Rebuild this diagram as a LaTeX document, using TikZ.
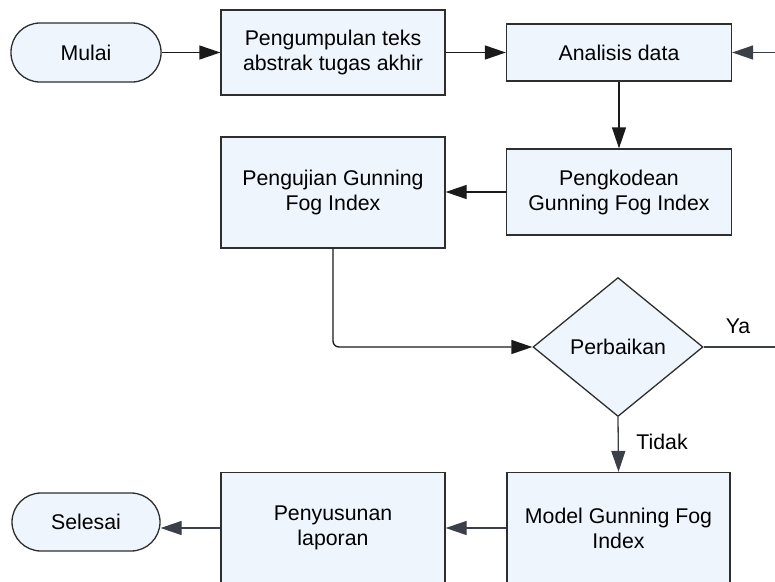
\documentclass[tikz,border=0pt]{standalone}
\usepackage{fontspec}
\setmainfont{Liberation Sans}
\usetikzlibrary{shapes.geometric,arrows.meta}
\definecolor{boxfill}{HTML}{EEF5FD}
\definecolor{boxline}{HTML}{2E2E2E}
\definecolor{arrdark}{HTML}{1A1A1A}
\definecolor{arrslate}{HTML}{3A3F48}
\begin{document}
\begin{tikzpicture}[x=1pt,y=-1pt,
  every node/.style={font=\fontsize{21.3}{25}\selectfont, text=black, align=center, inner sep=0pt},
  procbox/.style={draw=boxline, fill=boxfill, line width=1.3pt, rectangle},
  term/.style={draw=boxline, fill=boxfill, line width=1.3pt, rectangle, rounded corners=29pt},
  decis/.style={draw=boxline, fill=boxfill, line width=1.3pt, diamond, inner sep=0pt},
  conn/.style={draw=arrdark, line width=1.3pt, -{Triangle[length=21pt,width=14pt]}},
  conns/.style={draw=arrslate, line width=1.3pt, -{Triangle[length=21pt,width=14pt]}},
  plain/.style={draw=arrslate, line width=1.3pt},
  lbl/.style={font=\fontsize{21.3}{25}\selectfont}
]
\useasboundingbox (0,0) rectangle (775,581);

\node[term, minimum width=150pt, minimum height=59pt] (mulai) at (86,52.5) {Mulai};
\node[procbox, minimum width=224pt, minimum height=85pt] (kumpul) at (333,52.5) {Pengumpulan teks\\abstrak tugas akhir};
\node[procbox, minimum width=225pt, minimum height=57pt] (analisis) at (619,52.5) {Analisis data};
\node[procbox, minimum width=225pt, minimum height=86pt] (kode) at (619,192) {Pengkodean\\Gunning Fog Index};
\node[procbox, minimum width=224pt, minimum height=111pt] (uji) at (333,192.5) {Pengujian Gunning\\Fog Index};
\node[decis, minimum width=170pt, minimum height=139pt] (dia) at (618,347) {Perbaikan};
\node[procbox, minimum width=223pt, minimum height=111pt] (model) at (618.5,528) {Model Gunning Fog\\Index};
\node[procbox, minimum width=224pt, minimum height=111pt] (susun) at (333,528) {Penyusunan\\laporan};
\node[term, minimum width=148pt, minimum height=58pt] (selesai) at (86,522) {Selesai};

\coordinate (inR) at (775,52.5);
\coordinate (yaR) at (775,347);

\draw[conn] (mulai.east) -- (kumpul.west);
\draw[conn] (kumpul.east) -- (analisis.west);
\draw[conns] (inR) -- (analisis.east);
\draw[conn] (analisis.south) -- (kode.north);
\draw[conn] (kode.west) -- (kode.west -| uji.east);
\draw[conn, rounded corners=6pt] (uji.south) |- (dia.west);
\draw[plain] (dia.east) -- (yaR);
\draw[conns] (dia.south) -- (model.north);
\draw[conns] (model.west) -- (susun.east);
\draw[conns] (susun.west) -- (susun.west -| selesai.east);

\node[lbl] (ya) at (738,326) {Ya};
\node[lbl] (tidak) at (662,442) {Tidak};
\end{tikzpicture}
\end{document}
